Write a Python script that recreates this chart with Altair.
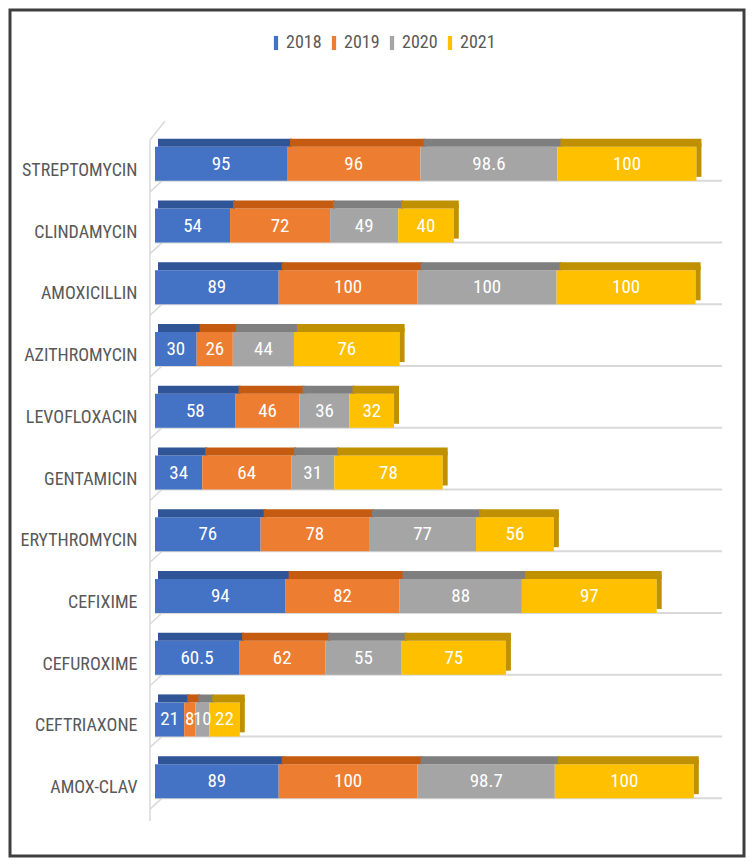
import altair as alt
import pandas as pd

drugs = ["STREPTOMYCIN", "CLINDAMYCIN", "AMOXICILLIN", "AZITHROMYCIN", "LEVOFLOXACIN",
         "GENTAMICIN", "ERYTHROMYCIN", "CEFIXIME", "CEFUROXIME", "CEFTRIAXONE", "AMOX-CLAV"]
years = ["2018", "2019", "2020", "2021"]
v2018 = [95, 54, 89, 30, 58, 34, 76, 94, 60.5, 21, 89]
v2019 = [96, 72, 100, 26, 46, 64, 78, 82, 62, 8, 100]
v2020 = [98.6, 49, 100, 44, 36, 31, 77, 88, 55, 10, 98.7]
v2021 = [100, 40, 100, 76, 32, 78, 56, 97, 75, 22, 100]

front_colors = ["#4472C4", "#ED7D31", "#A5A5A5", "#FFC000"]
top_colors = ["#2F5597", "#C55A11", "#7F7F7F", "#BF9000"]

rows = []
series = [v2018, v2019, v2020, v2021]
for i, d in enumerate(drugs):
    start = 0.0
    for yr, vals in zip(years, series):
        v = vals[i]
        rows.append({"drug": d, "year": yr, "value": v, "start": start,
                     "end": start + v, "mid": start + v / 2,
                     "label": f"{v:g}"})
        start += v
df = pd.DataFrame(rows)

W, H = 567, 679
FONT = "Roboto Condensed"

xsc = alt.Scale(domain=[0, 408], nice=False, zero=True)
ysc = alt.Scale(domain=drugs, paddingInner=0.0, paddingOuter=0.0)

Y = alt.Y("drug:N", sort=drugs, scale=ysc, title=None,
          axis=alt.Axis(domain=False, ticks=False, labelPadding=18, labelOffset=7,
                        labelFont=FONT, labelFontSize=18, labelColor="#595959",
                        grid=False))

base = alt.Chart(df)

grid = base.transform_filter(alt.datum.year == "2018").mark_rule(
    color="#D9D9D9", strokeWidth=2, yOffset=17).encode(
    y=Y, x=alt.value(0), x2=alt.value(W))

diag = base.transform_filter(alt.datum.year == "2018").mark_rule(
    color="#D9D9D9", strokeWidth=1.5, yOffset=28, y2Offset=17).encode(
    y=Y, y2="drug:N", x=alt.value(-5), x2=alt.value(7))

dummy = alt.Chart(pd.DataFrame({"a": [0]}))
wall = dummy.mark_rule(color="#D9D9D9", strokeWidth=1.5).encode(
    x=alt.value(-5), y=alt.value(7), y2=alt.value(688))
wall_top = dummy.mark_rule(color="#D9D9D9", strokeWidth=1.5).encode(
    x=alt.value(-5), x2=alt.value(10), y=alt.value(7), y2=alt.value(-12))

front = base.mark_bar(size=34).encode(
    y=Y,
    x=alt.X("start:Q", scale=xsc, axis=None),
    x2="end:Q",
    color=alt.Color("year:N", scale=alt.Scale(domain=years, range=front_colors),
                    legend=alt.Legend(orient="none", legendX=112, legendY=-99,
                                      direction="horizontal", title=None,
                                      labelFont=FONT, labelFontSize=18,
                                      labelColor="#595959",
                                      symbolType="M-0.3,-1H0.3V1H-0.3Z",
                                      symbolSize=200, symbolStrokeWidth=0,
                                      labelOffset=1, columnPadding=3)),
)

top = base.mark_bar(size=8, yOffset=-21, xOffset=3, x2Offset=5).encode(
    y=Y,
    x=alt.X("start:Q", scale=xsc, axis=None),
    x2="end:Q",
    color=alt.Color("year:N", scale=alt.Scale(domain=years, range=top_colors),
                    legend=None),
)

side = base.transform_filter(alt.datum.year == "2021").mark_bar(
    size=34, yOffset=-4, x2Offset=5, color="#BF9000").encode(
    y=Y,
    x=alt.X("end:Q", scale=xsc, axis=None),
    x2="end:Q",
)

labels = base.mark_text(color="white", font=FONT, fontSize=19, baseline="middle",
                        align="center").encode(
    y=Y,
    x=alt.X("mid:Q", scale=xsc, axis=None),
    text="label:N",
)

frame = dummy.mark_rect(fill="transparent", stroke="#3F3F3F", strokeWidth=3).encode(
    x=alt.value(-145), x2=alt.value(589), y=alt.value(-123), y2=alt.value(723))

chart = alt.layer(frame, wall, wall_top, diag, grid, front, top, side, labels).resolve_scale(
    color="independent"
).properties(
    width=W, height=H,
    autosize=alt.AutoSizeParams(type="none"),
    padding={"left": 147, "top": 125, "right": 24, "bottom": 46},
).configure(background="white").configure_view(strokeWidth=0)

chart.save("out.html", embed_options={"renderer": "svg", "actions": False})
